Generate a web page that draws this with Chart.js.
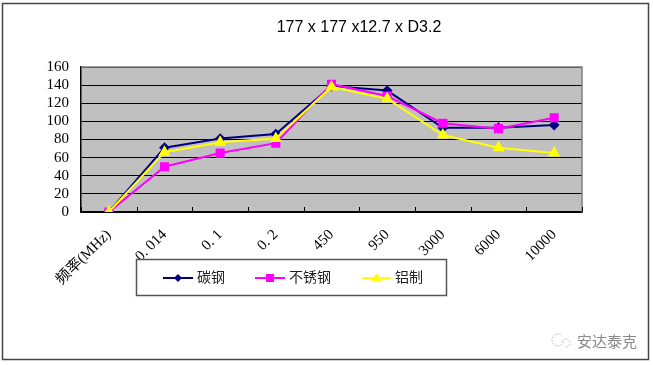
<!DOCTYPE html>
<html>
<head>
<meta charset="utf-8">
<script src="https://cdn.jsdelivr.net/npm/chart.js@4.4.0/dist/chart.umd.min.js"></script>
<style>
  html, body { margin: 0; padding: 0; background: #fff; }
  #wrap { width: 653px; height: 365px; }
</style>
</head>
<body>
<div id="wrap"><canvas id="myChart" width="653" height="365"></canvas></div>
<script>
const titleText = '177 x 177 x12.7 x D3.2';
const categories = ['频率(MHz)', '0. 014', '0. 1', '0. 2', '450', '950', '3000', '6000', '10000'];
const carbonSteel = [0, 71, 81, 86, 139, 134, 93, 93, 96];
const stainless = [0, 50, 65, 76, 141, 128, 98, 92, 104];
const aluminium = [0, 66, 77, 81, 138, 125, 85, 71, 65];
const seriesNames = ['碳钢', '不锈钢', '铝制'];
const yTicks = [0, 20, 40, 60, 80, 100, 120, 140, 160];

const serif = '"Liberation Serif", "DejaVu Serif", "Noto Sans CJK SC", serif';

// marker shape for the legend, same as the dataset pointStyle
function drawMarker(ctx, style, x, y, r, color) {
   ctx.save();
   ctx.fillStyle = color;
   ctx.beginPath();
   if (style === 'rectRot') {
      ctx.moveTo(x, y - r); ctx.lineTo(x + r, y); ctx.lineTo(x, y + r); ctx.lineTo(x - r, y);
   } else if (style === 'rect') {
      ctx.rect(x - r * 0.8, y - r * 0.8, r * 1.6, r * 1.6);
   } else {
      ctx.moveTo(x, y - r); ctx.lineTo(x + r, y + r * 0.7); ctx.lineTo(x - r, y + r * 0.7);
   }
   ctx.closePath();
   ctx.fill();
   ctx.restore();
}

const excelLook = {
   id: 'excelLook',
   beforeDraw(chart) {
      const ctx = chart.ctx;
      const a = chart.chartArea;
      ctx.save();
      ctx.fillStyle = '#fff';
      ctx.fillRect(0, 0, chart.width, chart.height);
      ctx.strokeStyle = '#444';
      ctx.lineWidth = 1.5;
      ctx.strokeRect(2.5, 3.5, 646, 356);
      ctx.fillStyle = '#c0c0c0';
      ctx.fillRect(a.left, a.top, a.right - a.left, a.bottom - a.top);
      ctx.restore();
   },
   afterDatasetsDraw(chart) {
      const ctx = chart.ctx;
      const a = chart.chartArea;
      const xs = chart.scales.x;
      ctx.save();
      // right and top edge of plot area
      ctx.strokeStyle = '#808080';
      ctx.lineWidth = 1.5;
      ctx.beginPath();
      ctx.moveTo(a.left, a.top);
      ctx.lineTo(a.right, a.top);
      ctx.lineTo(a.right, a.bottom);
      ctx.stroke();
      // inner tick marks on category boundaries
      ctx.strokeStyle = '#000';
      ctx.lineWidth = 1;
      const step = xs.getPixelForValue(1) - xs.getPixelForValue(0);
      for (let i = 0; i <= categories.length; i++) {
         const px = Math.round(xs.getPixelForValue(0) - step / 2 + i * step) + 0.5;
         ctx.beginPath();
         ctx.moveTo(px, a.bottom);
         ctx.lineTo(px, a.bottom - 5);
         ctx.stroke();
      }
      ctx.restore();
   },
   afterDraw(chart) {
      const ctx = chart.ctx;
      ctx.save();
      // title
      ctx.fillStyle = '#000';
      ctx.font = '16px "Liberation Sans", Arial, sans-serif';
      ctx.textAlign = 'center';
      ctx.textBaseline = 'middle';
      ctx.fillText(titleText, 359, 28);

      // legend box
      ctx.fillStyle = '#fff';
      ctx.fillRect(136, 259, 311, 37);
      ctx.strokeStyle = '#555';
      ctx.lineWidth = 1.5;
      ctx.strokeRect(136.5, 259.5, 310, 36);
      const items = [
         { x: 163, w: 30 },
         { x: 255, w: 30 },
         { x: 362, w: 29 }
      ];
      ctx.font = '14px ' + serif;
      ctx.textAlign = 'left';
      ctx.textBaseline = 'middle';
      chart.data.datasets.forEach((ds, i) => {
         const it = items[i];
         const y = 278;
         ctx.strokeStyle = ds.borderColor;
         ctx.lineWidth = 2;
         ctx.beginPath();
         ctx.moveTo(it.x, y);
         ctx.lineTo(it.x + it.w, y);
         ctx.stroke();
         drawMarker(ctx, ds.pointStyle, it.x + it.w / 2, y, ds.pointRadius, ds.pointBackgroundColor);
         ctx.fillStyle = '#222';
         ctx.fillText(seriesNames[i], it.x + it.w + 4, y);
      });

      // watermark
      ctx.fillStyle = '#8a8a8a';
      ctx.font = '15px "Noto Sans CJK SC", sans-serif';
      ctx.textAlign = 'left';
      ctx.fillText('安达泰克', 577, 341);
      ctx.strokeStyle = '#b0b0b0';
      ctx.lineWidth = 1;
      ctx.setLineDash([1.5, 1.5]);
      ctx.beginPath();
      ctx.arc(558, 340, 6, 0.3, Math.PI * 1.7);
      ctx.stroke();
      ctx.beginPath();
      ctx.arc(566, 343, 4, Math.PI * 1.1, Math.PI * 2.6);
      ctx.stroke();
      ctx.restore();
   }
};

const ctx = document.getElementById('myChart');

const myChart = new Chart(ctx, {
   type: 'line',
   data: {
      labels: categories,
      datasets: [{
         label: seriesNames[0],
         data: carbonSteel,
         borderColor: '#000080',
         backgroundColor: '#000080',
         pointBackgroundColor: '#000080',
         pointBorderColor: '#000080',
         pointStyle: 'rectRot',
         pointRadius: 4,
         borderWidth: 2,
         order: 2
      }, {
         label: seriesNames[1],
         data: stainless,
         borderColor: '#ff00ff',
         backgroundColor: '#ff00ff',
         pointBackgroundColor: '#ff00ff',
         pointBorderColor: '#ff00ff',
         pointStyle: 'rect',
         pointRadius: 5,
         borderWidth: 2,
         order: 1
      }, {
         label: seriesNames[2],
         data: aluminium,
         borderColor: '#ffff00',
         backgroundColor: '#ffff00',
         pointBackgroundColor: '#ffff00',
         pointBorderColor: '#ffff00',
         pointStyle: 'triangle',
         pointRadius: 5,
         borderWidth: 2,
         order: 0
      }]
   },
   options: {
      responsive: false,
      animation: false,
      layout: { padding: { left: 0, right: 71, top: 67, bottom: 0 } },
      plugins: {
         legend: { display: false },
         title: { display: false },
         tooltip: { enabled: false }
      },
      elements: { line: { tension: 0 } },
      scales: {
         x: {
            offset: true,
            grid: { drawOnChartArea: false, drawTicks: false },
            border: { color: '#000', width: 1.5 },
            ticks: {
               autoSkip: false,
               minRotation: 45,
               maxRotation: 45,
               padding: 14,
               color: '#000',
               font: { family: serif, size: 15 }
            },
            afterFit(scale) { scale.height = 153; }
         },
         y: {
            min: 0,
            max: 160,
            afterBuildTicks(scale) { scale.ticks = yTicks.map(v => ({ value: v })); },
            grid: { color: '#000', lineWidth: 1, drawTicks: false },
            border: { color: '#000', width: 1.5 },
            ticks: {
               autoSkip: false,
               padding: 12,
               color: '#000',
               font: { family: serif, size: 15 }
            },
            afterFit(scale) { scale.width = 81; }
         }
      }
   },
   plugins: [excelLook]
});
</script>
</body>
</html>
